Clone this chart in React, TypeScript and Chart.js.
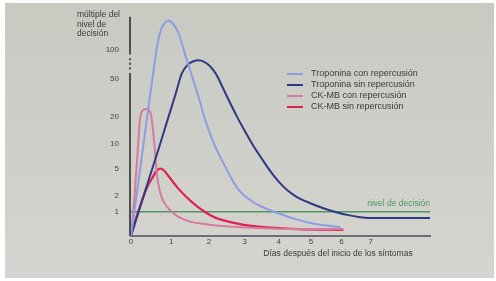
import React, { useEffect, useRef } from 'react';
import { Chart, LinearScale, registerables } from 'chart.js';

// ---- data (days after symptom onset, multiple of the decision level) ----
const xTicks = [0, 1, 2, 3, 4, 5, 6, 7];
const yTicks = [1, 2, 5, 10, 20, 50, 100];
const xMax = 9.2;
const yMax = 220;
const yBreak = [58, 90];
const decisionLevel = 1;

const yTitleLines = ['múltiple del', 'nivel de', 'decisión'];
const xTitle = 'Días después del inicio de los síntomas';
const decisionLabel = 'nivel de decisión';

const tropConDays = [0, 0.073, 0.171, 0.343, 0.468, 0.543, 0.643, 0.744, 0.846, 0.922, 1.0, 1.1, 1.206, 1.337, 1.521, 1.71, 1.95, 2.17, 2.36, 2.59, 2.812, 3.041, 3.3, 3.596, 3.9, 4.51, 5.14, 5.96];
const tropConVals = [0, 0.87, 3.06, 13.3, 33.3, 56.3, 109, 162.8, 191.9, 201, 196.3, 174.6, 144.8, 97.1, 57.7, 33.3, 15.9, 9.24, 6.3, 3.95, 2.58, 1.92, 1.5, 1.19, 0.97, 0.63, 0.42, 0.3];

const tropSinDays = [0, 0.22, 0.468, 0.668, 0.846, 1.1, 1.28, 1.442, 1.574, 1.71, 1.869, 2.03, 2.196, 2.36, 2.529, 2.78, 3.01, 3.244, 3.51, 3.75, 3.99, 4.261, 4.57, 4.98, 5.4, 5.83, 6.23, 6.64, 7.17, 9.2];
const tropSinVals = [0, 1.25, 4.07, 8.3, 15.1, 33.3, 57.7, 71.4, 76.6, 78.5, 75.8, 68.1, 56.3, 42.2, 30.9, 19.9, 13.7, 9.49, 6.5, 4.6, 3.37, 2.49, 1.92, 1.5, 1.19, 0.97, 0.82, 0.72, 0.68, 0.68];

const ckConDays = [0, 0.097, 0.171, 0.22, 0.294, 0.393, 0.492, 0.555, 0.593, 0.643, 0.719, 0.82, 0.974, 1.18, 1.55, 1.9, 2.36, 2.87, 4.66, 6.06];
const ckConVals = [0, 2.49, 9.49, 18.9, 23.6, 24.2, 20.9, 12.3, 7.9, 4.07, 2.32, 1.56, 1.08, 0.75, 0.5, 0.42, 0.34, 0.3, 0.23, 0.23];

const ckSinDays = [0, 0.024, 0.171, 0.393, 0.517, 0.618, 0.719, 0.82, 0.922, 1.18, 1.55, 1.9, 2.17, 2.59, 3.01, 3.54, 4.57, 6.06];
const ckSinVals = [0, 0.13, 0.97, 2.76, 3.71, 4.6, 5.02, 4.73, 4.07, 2.67, 1.56, 0.97, 0.7, 0.5, 0.38, 0.3, 0.23, 0.2];

const FONT = '"Liberation Sans", Arial, sans-serif';

// Scale that maps values through a warp (log with shift, or perspective bend)
class WarpScale extends LinearScale {
  static id = 'warp';
  static defaults = {};
  warpT(v: number): number {
    const o: any = this.options;
    if (o.warp === 'log') return Math.log10((v + o.logShift) / o.logShift);
    return v / (1 + o.bend * v);
  }
  warpInv(t: number): number {
    const o: any = this.options;
    if (o.warp === 'log') return o.logShift * Math.pow(10, t) - o.logShift;
    return t / (1 - o.bend * t);
  }
  determineDataLimits() {
    const o: any = this.options;
    this.min = o.min;
    this.max = o.max;
  }
  buildTicks() {
    const o: any = this.options;
    return Array.from(o.tickValues as number[]).map((v: number) => ({ value: v }));
  }
  configure() {
    super.configure();
    (this as any)._w0 = this.warpT(this.min);
    (this as any)._w1 = this.warpT(this.max);
  }
  getPixelForValue(value: number) {
    const a = (this as any)._w0, b = (this as any)._w1;
    return this.getPixelForDecimal((this.warpT(value) - a) / (b - a));
  }
  getValueForPixel(pixel: number) {
    const a = (this as any)._w0, b = (this as any)._w1;
    return this.warpInv(a + this.getDecimalForPixel(pixel) * (b - a));
  }
}

Chart.register(...registerables, WarpScale as any);

const pts = (xs: number[], ys: number[]) => xs.map((x, i) => ({ x, y: ys[i] }));

const decorPlugin = {
  id: 'decor',
  beforeDraw(chart: any) {
    const { ctx, width, height } = chart;
    ctx.save();
    ctx.fillStyle = '#ffffff';
    ctx.fillRect(0, 0, width, height);
    const g = ctx.createLinearGradient(0, 0, 0, height);
    g.addColorStop(0, '#c8cac2');
    g.addColorStop(1, '#d6d4d0');
    ctx.fillStyle = g;
    ctx.fillRect(5, 3, width - 7, height - 6);
    ctx.restore();
  },
  beforeDatasetsDraw(chart: any) {
    const { ctx, chartArea } = chart;
    const ys = chart.scales.y;
    const x = chartArea.left - 1;
    const b1 = ys.getPixelForValue(yBreak[1]);
    const b0 = ys.getPixelForValue(yBreak[0]);
    ctx.save();
    ctx.strokeStyle = '#4e4e4e';
    ctx.lineWidth = 2;
    ctx.beginPath();
    ctx.moveTo(x, chartArea.top);
    ctx.lineTo(x, b1);
    ctx.moveTo(x, b0);
    ctx.lineTo(x, chartArea.bottom);
    ctx.stroke();
    ctx.fillStyle = '#4e4e4e';
    for (let i = 1; i <= 3; i++) {
      const yy = b1 + ((b0 - b1) * i) / 4;
      ctx.fillRect(x - 1, yy - 1, 2, 2);
    }
    ctx.restore();
  },
  afterDraw(chart: any) {
    const { ctx, chartArea } = chart;
    ctx.save();
    // y title
    ctx.fillStyle = '#3a3a3a';
    ctx.font = `8.5px ${FONT}`;
    ctx.textAlign = 'left';
    ctx.textBaseline = 'middle';
    yTitleLines.forEach((t, i) => ctx.fillText(t, 77, 15 + i * 9.5));
    // x title
    ctx.textAlign = 'center';
    ctx.font = `8.5px ${FONT}`;
    ctx.fillText(xTitle, 338, 254);
    // decision label
    const ly = chart.scales.y.getPixelForValue(decisionLevel);
    ctx.fillStyle = '#4a9a5c';
    ctx.textAlign = 'right';
    ctx.fillText(decisionLabel, chartArea.right, ly - 8);
    // legend
    const items = chart.data.datasets.filter((d: any) => d.inLegend);
    ctx.font = `9px ${FONT}`;
    ctx.textAlign = 'left';
    items.forEach((d: any, i: number) => {
      const yy = 74 + i * 11;
      ctx.strokeStyle = d.borderColor;
      ctx.lineWidth = 2;
      ctx.beginPath();
      ctx.moveTo(287, yy);
      ctx.lineTo(303, yy);
      ctx.stroke();
      ctx.fillStyle = '#3a3a3a';
      ctx.fillText(d.label, 311, yy);
    });
    ctx.restore();
  },
};

export default function App() {
  const ref = useRef<HTMLCanvasElement>(null);
  useEffect(() => {
    if (!ref.current) return;
    const line = (label: string, data: any, color: string, width: number) => ({
      label,
      data,
      borderColor: color,
      borderWidth: width,
      pointRadius: 0,
      fill: false,
      cubicInterpolationMode: 'monotone',
      inLegend: true,
    });
    const chart = new Chart(ref.current, {
      type: 'line',
      data: {
        datasets: [
          line('Troponina con repercusión', pts(tropConDays, tropConVals), '#8d9de2', 2),
          line('Troponina sin repercusión', pts(tropSinDays, tropSinVals), '#2e3884', 2),
          line('CK-MB con repercusión', pts(ckConDays, ckConVals), '#d77aa0', 2),
          line('CK-MB sin repercusión', pts(ckSinDays, ckSinVals), '#dc2452', 2.2),
          {
            label: decisionLabel,
            data: [{ x: 0, y: decisionLevel }, { x: xMax, y: decisionLevel }],
            borderColor: '#50985f',
            borderWidth: 1.5,
            pointRadius: 0,
            fill: false,
            tension: 0,
            inLegend: false,
          } as any,
        ] as any,
      },
      options: {
        responsive: false,
        animation: false,
        events: [],
        layout: { padding: { left: 0, top: 15, right: 66, bottom: 0 } },
        plugins: { legend: { display: false }, tooltip: { enabled: false } },
        scales: {
          x: {
            type: 'warp',
            warp: 'bend',
            bend: 0.0294,
            min: 0,
            max: xMax,
            tickValues: xTicks,
            grid: { display: false, drawTicks: false },
            border: { display: true, color: '#6c6c74', width: 2 },
            ticks: { padding: 1, autoSkip: false, maxRotation: 0, color: '#444', font: { family: FONT, size: 8 }, callback: (v: any) => String(v) },
            afterFit: (s: any) => { s.height = 45; },
          } as any,
          y: {
            type: 'warp',
            warp: 'log',
            logShift: 1.3,
            min: 0,
            max: yMax,
            tickValues: yTicks,
            grid: { display: false, drawTicks: false },
            border: { display: false },
            ticks: { padding: 12, autoSkip: false, color: '#444', font: { family: FONT, size: 8 }, callback: (v: any) => String(v) },
            afterFit: (s: any) => { s.width = 131; },
          } as any,
        },
      } as any,
      plugins: [decorPlugin],
    });
    return () => chart.destroy();
  }, []);
  return (
    <div style={{ position: 'absolute', left: 0, top: 0, width: 496, height: 281 }}>
      <canvas ref={ref} width={496} height={281} style={{ display: 'block', width: 496, height: 281 }} />
    </div>
  );
}
